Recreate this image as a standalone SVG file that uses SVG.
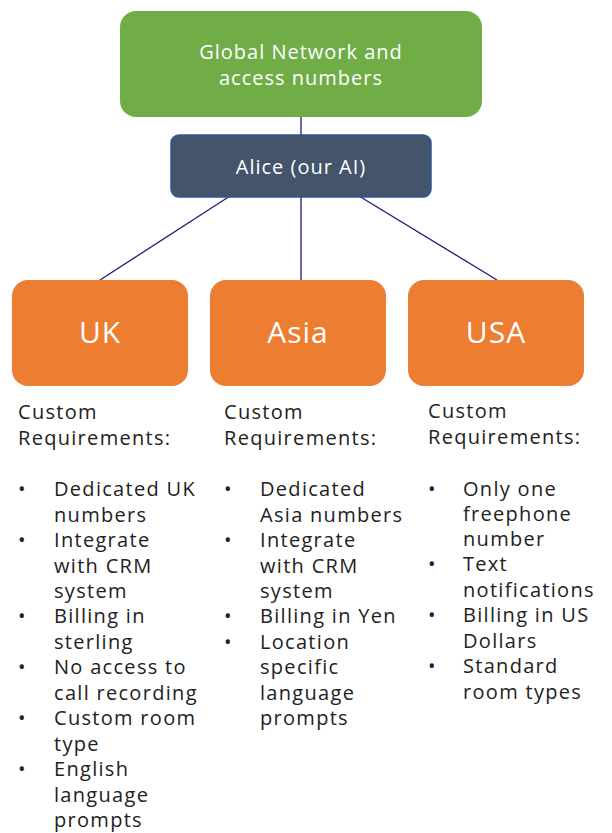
<svg xmlns="http://www.w3.org/2000/svg" width="612" height="833" viewBox="0 0 612 833">
<style>
.box{font-family:"Open Sans","DejaVu Sans",sans-serif;fill:#fff;text-anchor:middle}
.t20{font-size:20px;letter-spacing:1px}
.t30{font-size:30px;letter-spacing:1px}
.req{font-family:"Open Sans","DejaVu Sans",sans-serif;font-size:20px;letter-spacing:1.3px;fill:#222}
.orange{fill:#ED7D31}
.conn line{stroke:#1F1A7A;stroke-width:1.3}
</style>
<rect width="612" height="833" fill="#fff"/>
<g class="conn" id="connectors">
<line x1="301" y1="117" x2="301" y2="135"/>
<line x1="230" y1="196" x2="100" y2="280"/>
<line x1="301" y1="197" x2="301" y2="280"/>
<line x1="359" y1="196" x2="497" y2="280"/>
</g>
<g id="global">
<rect x="120" y="11" width="362" height="106" rx="16" fill="#70AD47"/>
<text class="box t20" x="301" y="59">Global Network and</text>
<text class="box t20" x="301" y="85">access numbers</text>
</g>
<g id="alice">
<rect x="171" y="135" width="260" height="62" rx="8" fill="#44546A" stroke="#2F5597" stroke-width="1.5"/>
<text class="box t20" x="301" y="174">Alice (our AI)</text>
</g>
<g id="uk">
<rect class="orange" x="12" y="280" width="176" height="106" rx="16"/>
<text class="box t30" x="100" y="343">UK</text>
</g>
<g id="asia">
<rect class="orange" x="210" y="280" width="176" height="106" rx="16"/>
<text class="box t30" x="298" y="343">Asia</text>
</g>
<g id="usa">
<rect class="orange" x="408" y="280" width="176" height="106" rx="16"/>
<text class="box t30" x="496" y="343">USA</text>
</g>
<g id="uk-req" class="req">
<text x="18" y="419">Custom</text>
<text x="18" y="445">Requirements:</text>
<text x="18" y="496">•</text><text x="54" y="496">Dedicated UK</text>
<text x="54" y="522">numbers</text>
<text x="18" y="547">•</text><text x="54" y="547">Integrate</text>
<text x="54" y="573">with CRM</text>
<text x="54" y="598">system</text>
<text x="18" y="623">•</text><text x="54" y="623">Billing in</text>
<text x="54" y="649">sterling</text>
<text x="18" y="674">•</text><text x="54" y="674">No access to</text>
<text x="54" y="700">call recording</text>
<text x="18" y="725">•</text><text x="54" y="725">Custom room</text>
<text x="54" y="751">type</text>
<text x="18" y="776">•</text><text x="54" y="776">English</text>
<text x="54" y="802">language</text>
<text x="54" y="827">prompts</text>
</g>
<g id="asia-req" class="req">
<text x="224" y="419">Custom</text>
<text x="224" y="445">Requirements:</text>
<text x="224" y="496">•</text><text x="260" y="496">Dedicated</text>
<text x="260" y="522">Asia numbers</text>
<text x="224" y="547">•</text><text x="260" y="547">Integrate</text>
<text x="260" y="573">with CRM</text>
<text x="260" y="598">system</text>
<text x="224" y="623">•</text><text x="260" y="623">Billing in Yen</text>
<text x="224" y="649">•</text><text x="260" y="649">Location</text>
<text x="260" y="674">specific</text>
<text x="260" y="700">language</text>
<text x="260" y="725">prompts</text>
</g>
<g id="usa-req" class="req">
<text x="428" y="418">Custom</text>
<text x="428" y="444">Requirements:</text>
<text x="428" y="496">•</text><text x="463" y="496">Only one</text>
<text x="463" y="521">freephone</text>
<text x="463" y="546">number</text>
<text x="428" y="571">•</text><text x="463" y="571">Text</text>
<text x="463" y="597">notifications</text>
<text x="428" y="622">•</text><text x="463" y="622">Billing in US</text>
<text x="463" y="648">Dollars</text>
<text x="428" y="673">•</text><text x="463" y="673">Standard</text>
<text x="463" y="699">room types</text>
</g>
</svg>
